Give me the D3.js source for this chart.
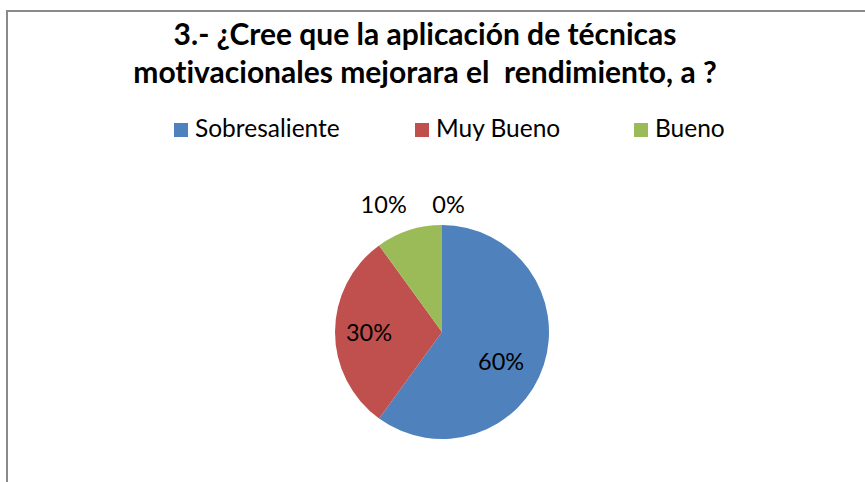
<!DOCTYPE html>
<html><head><meta charset="utf-8">
<script src="https://cdn.jsdelivr.net/npm/d3@7"></script>
<style>body{margin:0;background:#fff}svg{display:block}text{font-variant-ligatures:none;font-feature-settings:"liga" 0}</style>
</head><body>
<svg id="c" width="865" height="482"></svg>
<script>
const categories = ["Sobresaliente", "Muy Bueno", "Bueno"];
const values = [60, 30, 10];
const extraLabels = ["0%"];
const colors = ["#4F81BD", "#C0504D", "#9BBB59"];
const titleLines = ["3.- ¿Cree que la aplicación de técnicas", "motivacionales mejorara el  rendimiento, a ?"];

const svg = d3.select("#c");
const font = "Lato, 'Open Sans', sans-serif";

// frame
svg.append("path").attr("d", "M7,482 V11 H865").attr("fill", "none").attr("stroke", "#8a8a8a").attr("stroke-width", 2);

// title
svg.selectAll("text.title").data(titleLines).join("text")
  .attr("class", "title")
  .attr("x", 425).attr("y", (d, i) => 45 + i * 38)
  .attr("text-anchor", "middle")
  .attr("font-family", font).attr("font-weight", "bold").attr("font-size", 30)
  .attr("xml:space", "preserve").style("white-space", "pre")
  .attr("fill", "#000").text(d => d);

// legend
const legendX = d3.scaleOrdinal().domain(categories).range([174, 415, 634]);
const lg = svg.selectAll("g.lg").data(categories).join("g").attr("class", "lg")
  .attr("transform", d => `translate(${legendX(d)},123)`);
lg.append("rect").attr("width", 14).attr("height", 14).attr("fill", (d, i) => colors[i]);
lg.append("text").attr("x", 21).attr("y", 14).attr("font-family", font).attr("font-size", 24.5)
  .attr("fill", "#000").text(d => d);

// pie
const cx = 442, cy = 332, r = 107;
const pie = d3.pie().sort(null).value(d => d);
const arcs = pie(values);
const arc = d3.arc().innerRadius(0).outerRadius(r);
const g = svg.append("g").attr("transform", `translate(${cx},${cy})`);
g.selectAll("path").data(arcs).join("path").attr("d", arc).attr("fill", (d, i) => colors[i]);

// labels
const fs = 23.5;
const total = d3.sum(values);
const inner = d3.arc().innerRadius(r * 0.65).outerRadius(r * 0.65);
const outer = d3.arc().innerRadius(r * 1.25).outerRadius(r * 1.25);
const nudges = [[-7, 8], [-3.5, 1], [-17, 0]];
g.selectAll("text.lbl").data(arcs).join("text").attr("class", "lbl")
  .attr("transform", (d, i) => {
    const p = (i === 2 ? outer : inner).centroid(d);
    return `translate(${p[0] + nudges[i][0]},${p[1] + nudges[i][1] + fs * 0.36})`;
  })
  .attr("text-anchor", "middle").attr("font-family", font).attr("font-size", fs).attr("fill", "#000")
  .text(d => Math.round(d.data / total * 100) + "%");
g.append("text").attr("x", 6.5).attr("y", -127 + fs * 0.36).attr("text-anchor", "middle")
  .attr("font-family", font).attr("font-size", fs).attr("fill", "#000").text(extraLabels[0]);
</script>
</body></html>
